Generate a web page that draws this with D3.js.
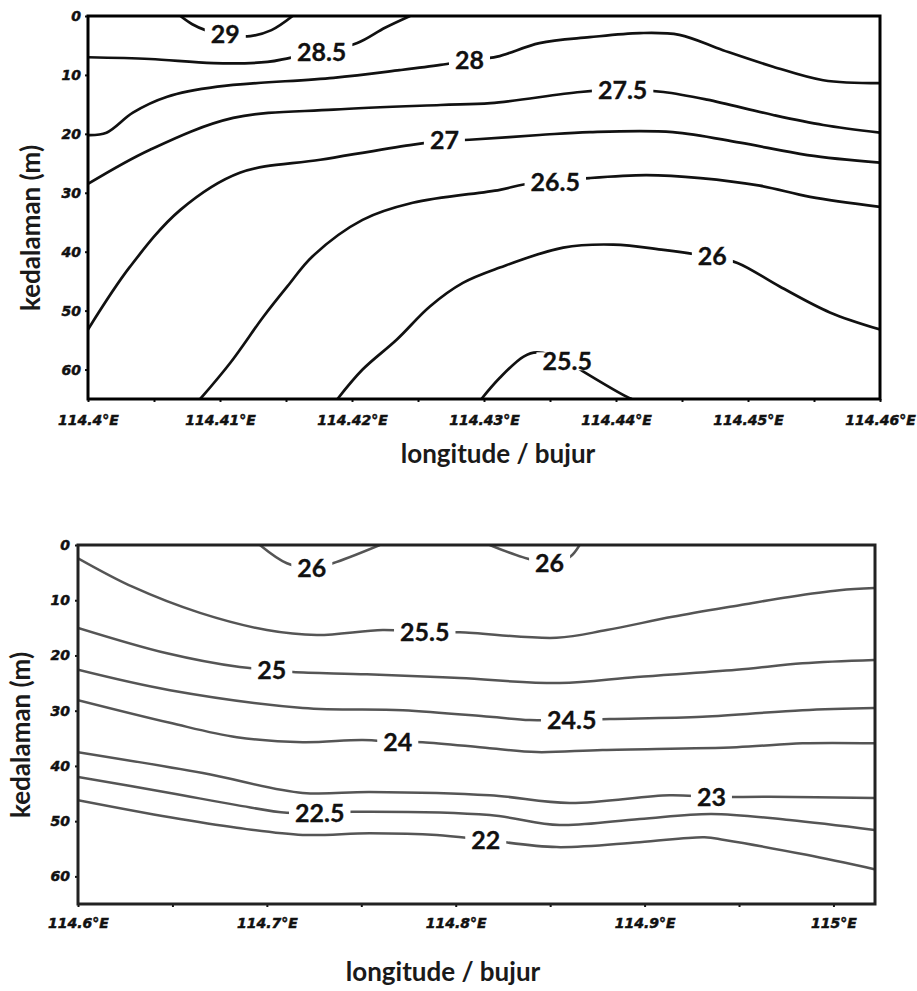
<!DOCTYPE html>
<html>
<head>
<meta charset="utf-8">
<script src="https://cdn.jsdelivr.net/npm/d3@7"></script>
<style>
  body { margin: 0; background: #fff; }
  svg { display: block; }
  .tick text { font-family: "DejaVu Sans", sans-serif; font-weight: bold; font-style: italic; font-size: 14px; fill: #111; stroke: #111; stroke-width: 0.5px; }
  .title { font-family: Lato, sans-serif; font-weight: bold; font-size: 26px; fill: #1a1a1a; }
  .clabel { font-family: Lato, sans-serif; font-weight: bold; font-size: 25px; fill: #111; stroke: #111; stroke-width: 0.3px; }
</style>
</head>
<body>
<div class="container"></div>
<script>
// ---- top section (114.40 - 114.46 E) ----
const topLonTicks = [114.40, 114.41, 114.42, 114.43, 114.44, 114.45, 114.46];
const topLonLabels = ["114.4°E", "114.41°E", "114.42°E", "114.43°E", "114.44°E", "114.45°E", "114.46°E"];
const depthTicks = [0, 10, 20, 30, 40, 50, 60];

const topLevels = ["29", "28.5", "28", "27.5", "27", "26.5", "26", "25.5"];
// each contour: [longitude, depth] points
const topContours = [
  [[114.4070,0],[114.4079,1.4],[114.4089,2.4],[114.4104,3.2],[114.4123,3.4],[114.4139,2.4],[114.4155,0]],
  [[114.4000,7.0],[114.4047,7.3],[114.4095,8.0],[114.4136,7.8],[114.4153,7.1],[114.4177,6.1],[114.4204,4.6],[114.4225,2.0],[114.4244,0]],
  [[114.4000,20.2],[114.4014,19.8],[114.4034,16.4],[114.4060,13.7],[114.4098,12.0],[114.4186,10.5],[114.4236,9.2],[114.4267,8.3],[114.4289,7.5],[114.4310,6.9],[114.4342,4.6],[114.4380,3.6],[114.4418,2.9],[114.4448,3.2],[114.4481,5.8],[114.4519,8.6],[114.4557,10.9],[114.4600,11.4]],
  [[114.4000,28.5],[114.4047,22.7],[114.4110,17.3],[114.4186,15.9],[114.4267,15.1],[114.4305,14.8],[114.4373,12.9],[114.4405,12.5],[114.4436,12.9],[114.4469,14.2],[114.4519,16.8],[114.4557,18.5],[114.4600,19.8]],
  [[114.4000,53.2],[114.4032,42.5],[114.4070,32.9],[114.4115,26.6],[114.4176,24.4],[114.4244,21.9],[114.4270,21.2],[114.4289,21.0],[114.4342,20.2],[114.4380,19.7],[114.4443,19.7],[114.4494,21.5],[114.4545,23.6],[114.4600,24.9]],
  [[114.4085,65],[114.4108,58.8],[114.4133,51.0],[114.4151,45.9],[114.4170,40.8],[114.4208,34.6],[114.4246,31.7],[114.4312,29.5],[114.4330,28.6],[114.4354,28.1],[114.4380,27.5],[114.4423,27.0],[114.4464,27.5],[114.4509,28.8],[114.4547,30.7],[114.4600,32.4]],
  [[114.4189,65],[114.4208,60.0],[114.4234,54.9],[114.4259,49.3],[114.4284,45.3],[114.4312,42.7],[114.4360,39.3],[114.4398,38.8],[114.4436,39.7],[114.4473,40.9],[114.4492,41.9],[114.4524,45.9],[114.4562,50.3],[114.4600,53.2]],
  [[114.4298,65],[114.4312,61.4],[114.4330,57.8],[114.4340,57.1],[114.4363,58.6],[114.4375,60.3],[114.4408,64.6],[114.4412,65]]
];
const topLabelPos = [[114.4104,3.1],[114.4177,6.1],[114.4289,7.5],[114.4405,12.5],[114.4270,21.0],[114.4354,28.1],[114.4473,40.8],[114.4363,58.6]];

// ---- bottom section (114.6 - 115 E) ----
const botLonTicks = [114.6, 114.7, 114.8, 114.9, 115.0];
const botLonLabels = ["114.6°E", "114.7°E", "114.8°E", "114.9°E", "115°E"];

const botLevels = ["26", "26", "25.5", "25", "24.5", "24", "23", "22.5", "22"];
const botContours = [
  [[114.6963,0],[114.7106,3.3],[114.7243,4.2],[114.7349,3.3],[114.7598,0]],
  [[114.8180,0],[114.8354,2.2],[114.8497,3.3],[114.8603,2.2],[114.8656,0]],
  [[114.6000,2.4],[114.6291,7.6],[114.6646,12.3],[114.7000,15.4],[114.7265,16.3],[114.7614,15.4],[114.7836,15.8],[114.8021,15.8],[114.8534,16.8],[114.8799,15.4],[114.9148,13.0],[114.9503,10.9],[114.9767,9.4],[115.0032,8.2],[115.0217,7.8]],
  [[114.6000,15.0],[114.6471,19.6],[114.6857,22.1],[114.7026,22.6],[114.7138,23.0],[114.7529,23.4],[114.8021,24.1],[114.8550,25.0],[114.8958,23.9],[114.9487,22.6],[114.9836,21.4],[115.0217,20.8]],
  [[114.6000,22.6],[114.6487,26.3],[114.7190,29.5],[114.7720,29.9],[114.8180,31.1],[114.8392,31.7],[114.8614,31.7],[114.8815,31.5],[114.9307,31.1],[114.9836,29.9],[115.0217,29.5]],
  [[114.6000,28.1],[114.6487,32.2],[114.6841,34.8],[114.7190,35.7],[114.7508,35.3],[114.7693,35.7],[114.7825,35.7],[114.8180,36.8],[114.8429,37.5],[114.8778,37.1],[114.9487,36.6],[114.9836,35.9],[115.0217,35.9]],
  [[114.6000,37.5],[114.6661,41.3],[114.7190,44.9],[114.7545,44.7],[114.8180,45.3],[114.8603,46.7],[114.9132,45.3],[114.9354,45.6],[114.9661,45.6],[115.0217,45.8]],
  [[114.6000,42.0],[114.6487,44.9],[114.6841,47.1],[114.7106,48.5],[114.7280,48.5],[114.7455,48.3],[114.8180,48.9],[114.8550,50.7],[114.8974,49.6],[114.9354,48.7],[114.9767,49.8],[115.0217,51.6]],
  [[114.6000,46.2],[114.6487,49.3],[114.6841,51.2],[114.7190,52.5],[114.7545,52.2],[114.7899,52.5],[114.8159,53.4],[114.8534,54.7],[114.8974,53.8],[114.9317,52.9],[114.9423,53.4],[114.9857,56.1],[115.0217,58.7]]
];
const botLabelPos = [[114.7238,4.2],[114.8497,3.3],[114.7836,15.8],[114.7026,22.6],[114.8614,31.7],[114.7693,35.7],[114.9354,45.6],[114.7280,48.5],[114.8159,53.4]];

const svg = d3.select(".container")
  .append("svg")
  .attr("width", 917)
  .attr("height", 991);

function drawPanel(p) {
  const x = d3.scaleLinear().domain(p.lonDomain).range([p.left, p.right]);
  const y = d3.scaleLinear().domain([0, 65]).range([p.top, p.bottom]);
  const g = svg.append("g");

  g.append("clipPath").attr("id", "clip-" + p.name)
    .append("rect")
    .attr("x", p.left).attr("y", p.top)
    .attr("width", p.right - p.left).attr("height", p.bottom - p.top);

  const line = d3.line()
    .x(d => x(d[0]))
    .y(d => y(d[1]))
    .curve(d3.curveCatmullRom.alpha(0.5));

  g.append("g")
    .attr("clip-path", "url(#clip-" + p.name + ")")
    .selectAll("path")
    .data(p.contours)
    .join("path")
    .attr("d", line)
    .attr("fill", "none")
    .attr("stroke", p.lineColor)
    .attr("stroke-width", p.lineWidth)
    .attr("stroke-linejoin", "round");

  // contour labels, with a white gap cut into the line
  const lab = g.append("g")
    .selectAll("g")
    .data(p.levels)
    .join("g")
    .attr("transform", (d, i) => "translate(" + x(p.labelPos[i][0]) + "," + y(p.labelPos[i][1]) + ")");
  lab.append("rect").attr("fill", "#fff");
  lab.append("text")
    .attr("class", "clabel")
    .attr("text-anchor", "middle")
    .attr("dy", "0.36em")
    .text(d => d);
  lab.each(function () {
    const bb = d3.select(this).select("text").node().getBBox();
    d3.select(this).select("rect")
      .attr("x", bb.x - 6).attr("width", bb.width + 12)
      .attr("y", -9).attr("height", 18);
  });

  // axes
  const xAxis = g.append("g")
    .attr("transform", "translate(0," + p.bottom + ")")
    .call(d3.axisBottom(x)
      .tickValues(p.lonTicks)
      .tickFormat((d, i) => p.lonLabels[i])
      .tickSize(3)
      .tickPadding(p.xPad));
  xAxis.select(".domain").remove();

  const minor = d3.pairs(p.lonTicks).map(([a, b]) => (a + b) / 2);
  const xMinor = g.append("g")
    .attr("transform", "translate(0," + p.bottom + ")")
    .call(d3.axisBottom(x).tickValues(minor).tickFormat("").tickSize(3));
  xMinor.select(".domain").remove();

  const yAxis = g.append("g")
    .attr("transform", "translate(" + p.left + ",0)")
    .call(d3.axisLeft(y)
      .tickValues(depthTicks)
      .tickSize(3)
      .tickPadding(p.yPad));
  yAxis.select(".domain").remove();
  g.selectAll(".tick line").attr("stroke", "#111").attr("stroke-width", 2);

  // frame
  g.append("rect")
    .attr("x", p.left).attr("y", p.top)
    .attr("width", p.right - p.left).attr("height", p.bottom - p.top)
    .attr("fill", "none")
    .attr("stroke", p.frameColor)
    .attr("stroke-width", 3);

  // titles
  g.append("text")
    .attr("class", "title")
    .attr("text-anchor", "middle")
    .attr("x", p.xTitle[0]).attr("y", p.xTitle[1])
    .text("longitude / bujur");
  g.append("text")
    .attr("class", "title")
    .attr("text-anchor", "middle")
    .attr("transform", "translate(" + p.yTitle[0] + "," + p.yTitle[1] + ") rotate(-90)")
    .text("kedalaman (m)");
}

drawPanel({
  name: "top",
  left: 88, right: 880, top: 16, bottom: 399,
  lonDomain: [114.40, 114.46],
  lonTicks: topLonTicks, lonLabels: topLonLabels,
  contours: topContours, levels: topLevels, labelPos: topLabelPos,
  lineColor: "#111", lineWidth: 2.7, frameColor: "#000",
  xPad: 13, yPad: 4,
  xTitle: [498, 463], yTitle: [40, 228]
});

drawPanel({
  name: "bot",
  left: 78, right: 875, top: 545, bottom: 904,
  lonDomain: [114.6, 115.022],
  lonTicks: botLonTicks, lonLabels: botLonLabels,
  contours: botContours, levels: botLevels, labelPos: botLabelPos,
  lineColor: "#555", lineWidth: 2.5, frameColor: "#222",
  xPad: 11, yPad: 5,
  xTitle: [443, 981], yTitle: [30, 735]
});
</script>
</body>
</html>
